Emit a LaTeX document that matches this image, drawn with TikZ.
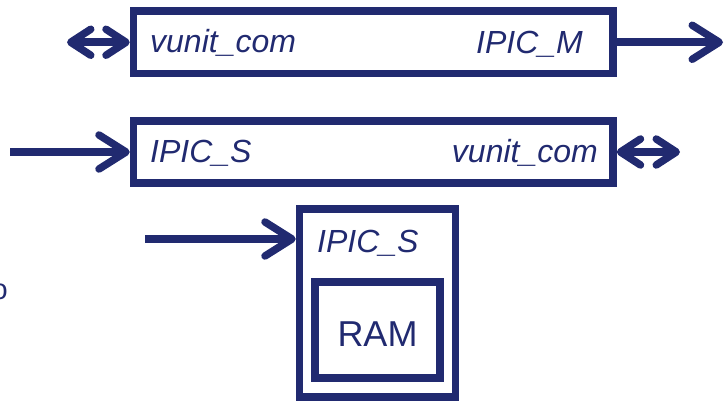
\documentclass[tikz,border=0pt]{standalone}
\usepackage{fontspec}
\setmainfont{Liberation Sans}
\usetikzlibrary{arrows.meta}
\definecolor{navy}{RGB}{33,42,112}
\tikzset{
  blk/.style={draw=navy, line width=7.5pt, minimum width=#1, inner sep=0pt},
  lbl/.style={text=navy, font=\fontsize{32}{36}\selectfont\itshape, inner sep=0pt},
  big/.style={text=navy, font=\fontsize{36}{40}\selectfont, inner sep=0pt},
  sbarb/.tip={Straight Barb[round, length=20pt, width=26pt]},
  lbarb/.tip={Straight Barb[round, length=27pt, width=34pt]},
  wire/.style={draw=navy, line width=7.5pt}
}
\begin{document}
\begin{tikzpicture}[x=1pt, y=-1pt]
\useasboundingbox (0,0) rectangle (724,401);

% blocks
\node[blk=479.5pt, minimum height=62.5pt] (b1) at (373.25,42.25) {};
\node[blk=479.5pt, minimum height=62pt] (b2) at (373.25,152) {};
\node[blk=156pt, minimum height=188pt] (b3) at (377.5,303) {};
\node[blk=125pt, minimum height=96pt] (ram) at (377.5,330) {};

% block labels
\node[lbl, anchor=base west] (t1) at (150,53) {vunit\_com};
\node[lbl, anchor=base east] (t2) at (583,54) {IPIC\_M};
\node[lbl, anchor=base west] (t3) at (150,163) {IPIC\_S};
\node[lbl, anchor=base east] (t4) at (598,163) {vunit\_com};
\node[lbl, anchor=base west] (t5) at (317,253) {IPIC\_S};
\node[big, anchor=base] (t6) at (377.5,346) {RAM};
\node[text=navy, font=\fontsize{29}{32}\selectfont, inner sep=0pt, anchor=base east] (t7) at (8,300) {o};

% connector ends
\coordinate (p1) at (67,42.25);
\coordinate (p2) at (723,42.25);
\coordinate (p3) at (10,152);
\coordinate (p4) at (680,152);
\coordinate (p5) at (145,239);

% connectors
\draw[wire, {sbarb}-{sbarb}] (p1) -- (b1.west);
\draw[wire, -{lbarb}] (b1.east) -- (p2);
\draw[wire, -{lbarb}] (p3) -- (b2.west);
\draw[wire, {sbarb}-{sbarb}] (b2.east) -- (p4);
\draw[wire, -{lbarb}] (p5) -- (p5 -| b3.west);
\end{tikzpicture}
\end{document}
